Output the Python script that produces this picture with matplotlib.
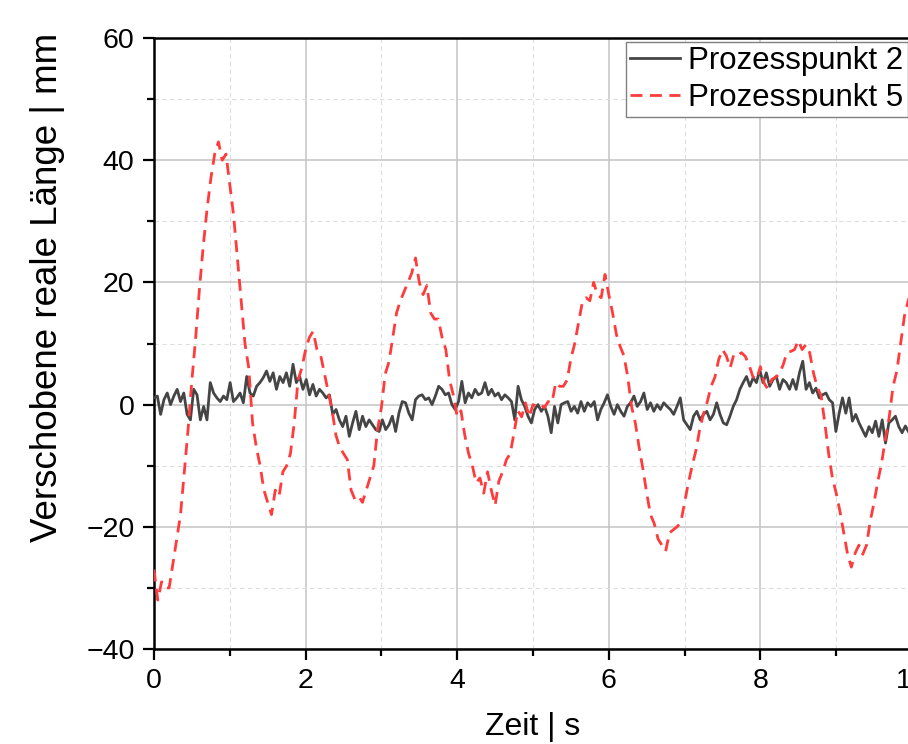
import numpy as np
import matplotlib
matplotlib.use('Agg')
import matplotlib.pyplot as plt
from matplotlib.ticker import MultipleLocator

# Prozesspunkt 2 (gleichmaessig abgetastet von 0 bis 10 s)
p2_values = [
    1.1, 1.4, -1.6, 0.8, 1.9, 0.0, 1.4, 2.5, 0.5, 1.9,
    -1.6, -2.5, 2.5, 1.6, -2.5, -0.3, -2.5, 3.6, 1.9, 1.1,
    0.5, 1.4, 0.8, 3.6, 0.5, 1.1, 1.9, 0.3, 4.6, 1.9,
    1.4, 3.0, 3.6, 4.4, 5.5, 3.8, 5.2, 2.5, 4.6, 3.6,
    5.2, 3.0, 6.6, 3.6, 4.6, 2.5, 4.1, 1.6, 3.3, 1.4,
    2.5, 1.9, 1.1, 1.6, -1.6, -0.8, -2.5, -3.6, -1.9, -5.2,
    -3.0, -1.1, -4.1, -1.9, -3.6, -2.5, -3.3, -4.1, -4.4, -2.5,
    -4.1, -3.3, -1.9, -4.4, -1.4, 0.5, 0.3, -1.4, -2.5, 0.8,
    1.4, 1.6, 0.8, 1.1, 0.0, 1.4, 3.0, 2.5, 1.6, 1.9,
    0.0, -0.8, 0.5, 3.8, 0.3, 1.9, 1.1, 2.5, 1.6, 1.9,
    3.6, 1.6, 2.5, 1.4, 1.9, 0.8, 1.6, 1.1, 0.5, -2.5,
    3.0, 0.8, -0.3, -1.9, -3.0, -0.8, 0.0, -1.1, -0.3, -1.9,
    -4.6, -0.3, -3.0, 0.0, 0.3, 0.5, -1.1, -0.3, -1.4, 0.5,
    -1.1, 0.3, -0.3, 0.5, -2.5, -0.8, 0.3, 1.6, -0.3, -1.6,
    0.0, -1.1, -1.9, -0.3, 0.3, 1.4, -0.3, 0.5, 1.9, -0.8,
    0.3, -1.1, 0.0, -0.8, 0.3, -0.3, -0.8, -1.6, -0.3, 1.1,
    -2.5, -3.3, -4.1, -1.9, -1.1, -2.5, -1.6, -1.1, -2.5, -1.6,
    0.3, -1.6, -3.0, -3.3, -1.9, -0.3, 0.8, 2.5, 3.6, 4.6,
    3.0, 4.4, 3.6, 5.7, 3.6, 5.2, 3.0, 4.1, 4.6, 2.5,
    4.1, 3.6, 2.5, 4.1, 2.5, 5.2, 7.1, 2.5, 3.6, 1.9,
    2.7, 1.1, 1.6, 1.9, 0.8, 0.3, -4.4, -1.4, 1.1, -1.4,
    1.1, -2.7, -1.6, -3.0, -4.1, -5.2, -3.6, -4.6, -2.7, -5.2,
    -2.5, -6.3, -3.0, -2.5, -1.9, -3.6, -4.6, -3.5, -4.5, -4.0,
]

# Prozesspunkt 5 (alle 0.05 s von 0 bis 10 s)
p5_values = [
    -27, -32, -29, -30, -30, -26, -22, -18, -11, -4,
    4, 11, 19, 26, 32, 37, 41, 43, 40, 41,
    36, 31, 24, 17, 10, 6, -3, -7, -10, -14,
    -16, -18, -14, -15, -11, -10, -8, -3, 4, 6,
    9, 11, 12, 9, 8, 5, 2, -1, -5, -7,
    -8, -9, -14, -15.5, -15, -16, -14, -12, -10, -4,
    -0.5, 5, 7, 11, 15, 17, 18.5, 20, 21.5, 24,
    20, 18, 19.5, 15, 14, 14, 11, 9, 4, 1.5,
    -2, -1, -5, -8, -10, -12.8, -12, -14.5, -11, -14,
    -16.5, -12.5, -11, -9, -8, -4.6, -1, -2, 0.3, -2,
    0, -0.3, 0, -0.5, 0.5, 0.3, 3.6, 3, 3, 4,
    7.5, 10, 13.4, 16.7, 17.5, 17, 20, 18, 17.5, 21.3,
    18, 15, 11.5, 9.5, 8, 4.5, -0.3, -3, -7, -10.5,
    -14.5, -18, -19.5, -22, -23, -24, -21, -20.5, -20, -19.3,
    -16, -12.8, -10, -7.5, -4, -1.5, 0.5, 3, 4.5, 7.4,
    9, 8, 6, 8.2, 8, 8.5, 7.9, 6.5, 4.6, 4.1,
    6.2, 3.5, 2.5, 4.1, 4.5, 5, 6.5, 8.5, 8.7, 9,
    10.5, 9, 9.8, 8.5, 5.2, 2.8, 1.5, -3, -8, -12,
    -14.5, -17.5, -21, -24.5, -26.6, -24.3, -23, -24.5, -23, -19,
    -16, -12.5, -9.5, -5.5, -2, 3, 5.5, 10, 14.5, 17,
    19,
]

y_ticks = [-40, -20, 0, 20, 40, 60]
y_tick_labels = ['\u221240', '\u221220', '0', '20', '40', '60']

t_p2 = np.linspace(0, 10, len(p2_values))
t_p5 = np.linspace(0, 10, len(p5_values))

plt.rcParams['font.family'] = ['Liberation Sans', 'DejaVu Sans']

fig = plt.figure(figsize=(9.08, 7.44), dpi=100)
ax = fig.add_axes([154 / 908, 95 / 744, 758 / 908, 611 / 744])

ax.plot(t_p2, p2_values, color='#454545', lw=2.0, label='Prozesspunkt 2', zorder=3)
ax.plot(t_p5, p5_values, color='#ff3b3b', lw=2.0, dashes=(4.3, 2.7), label='Prozesspunkt 5', zorder=4)

ax.set_xlim(0, 10)
ax.set_ylim(-40, 60)
ax.xaxis.set_major_locator(MultipleLocator(2))
ax.xaxis.set_minor_locator(MultipleLocator(1))
ax.set_yticks(y_ticks)
ax.set_yticklabels(y_tick_labels)
ax.yaxis.set_minor_locator(MultipleLocator(10))

ax.grid(which='major', color='#c4c4c4', lw=1.1, ls='-', zorder=0)
ax.grid(which='minor', color='#dedede', lw=0.8, ls=(0, (4, 3)), zorder=0)

for side in ['left', 'bottom', 'top']:
    ax.spines[side].set_linewidth(1.8)
    ax.spines[side].set_color('black')
ax.spines['right'].set_visible(False)

ax.tick_params(which='major', direction='out', length=8, width=1.6, pad=6,
               labelsize=20.5, top=False, right=False)
ax.tick_params(which='minor', direction='out', length=5, width=1.6, top=False, right=False)

ax.set_xlabel('Zeit | s', fontsize=23, labelpad=13)
ax.set_ylabel('Verschobene reale Länge | mm', fontsize=26.5)
ax.yaxis.set_label_coords(-0.118, 0.592)

leg = ax.legend(loc='upper right', bbox_to_anchor=(0.995, 0.994), fontsize=22.5,
                frameon=True, fancybox=False, framealpha=1, edgecolor='#808080',
                handlelength=1.6, handletextpad=0.25, borderpad=0.15,
                labelspacing=0.2, borderaxespad=0)
leg.get_frame().set_linewidth(1.0)

fig.savefig('out.png', dpi=100)
